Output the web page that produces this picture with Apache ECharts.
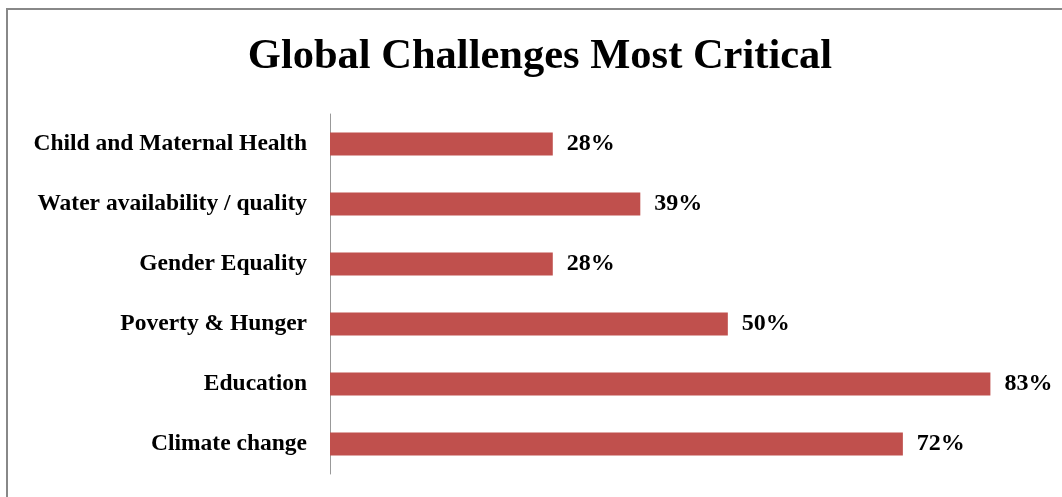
<!DOCTYPE html>
<html>
<head>
<meta charset="utf-8">
<script src="https://cdn.jsdelivr.net/npm/echarts@6/dist/echarts.min.js"></script>
<style>
html,body{margin:0;padding:0;background:#fff;}
#chart{width:1062px;height:497px;}
</style>
</head>
<body>
<div id="chart"></div>
<script>
const titleText = 'Global Challenges Most Critical';
const categories = ['Child and Maternal Health', 'Water availability / quality', 'Gender Equality', 'Poverty & Hunger', 'Education', 'Climate change'];
const values = [28, 39, 28, 50, 83, 72];

const chart = echarts.init(document.getElementById('chart'), null, {renderer: 'canvas'});
const font = '"Liberation Serif", "Times New Roman", serif';
chart.setOption({
  animation: false,
  backgroundColor: '#fff',
  graphic: [
    {type: 'rect', shape: {x: 7, y: 9, width: 1100, height: 520}, style: {fill: 'none', stroke: '#888', lineWidth: 2}, z: 0},
    {type: 'text', x: 540, y: 57, style: {text: titleText, fontFamily: font, fontWeight: 'bold', fontSize: 42.5, fill: '#000', textAlign: 'center', textVerticalAlign: 'middle'}}
  ],
  grid: {left: 330, top: 114, right: 0, height: 360, containLabel: false},
  xAxis: {type: 'value', min: 0, max: 92, show: false},
  yAxis: {
    type: 'category', data: categories, inverse: true,
    axisLine: {show: true, lineStyle: {color: '#999', width: 1}},
    axisTick: {show: false},
    axisLabel: {margin: 23, color: '#000', fontFamily: font, fontWeight: 'bold', fontSize: 23.5},
    splitLine: {show: false}
  },
  series: [{
    type: 'bar', data: values, barWidth: 23,
    itemStyle: {color: '#C0504D'},
    label: {show: true, position: 'right', distance: 14, formatter: '{c}%', color: '#000', fontFamily: font, fontWeight: 'bold', fontSize: 24}
  }]
});
</script>
</body>
</html>
